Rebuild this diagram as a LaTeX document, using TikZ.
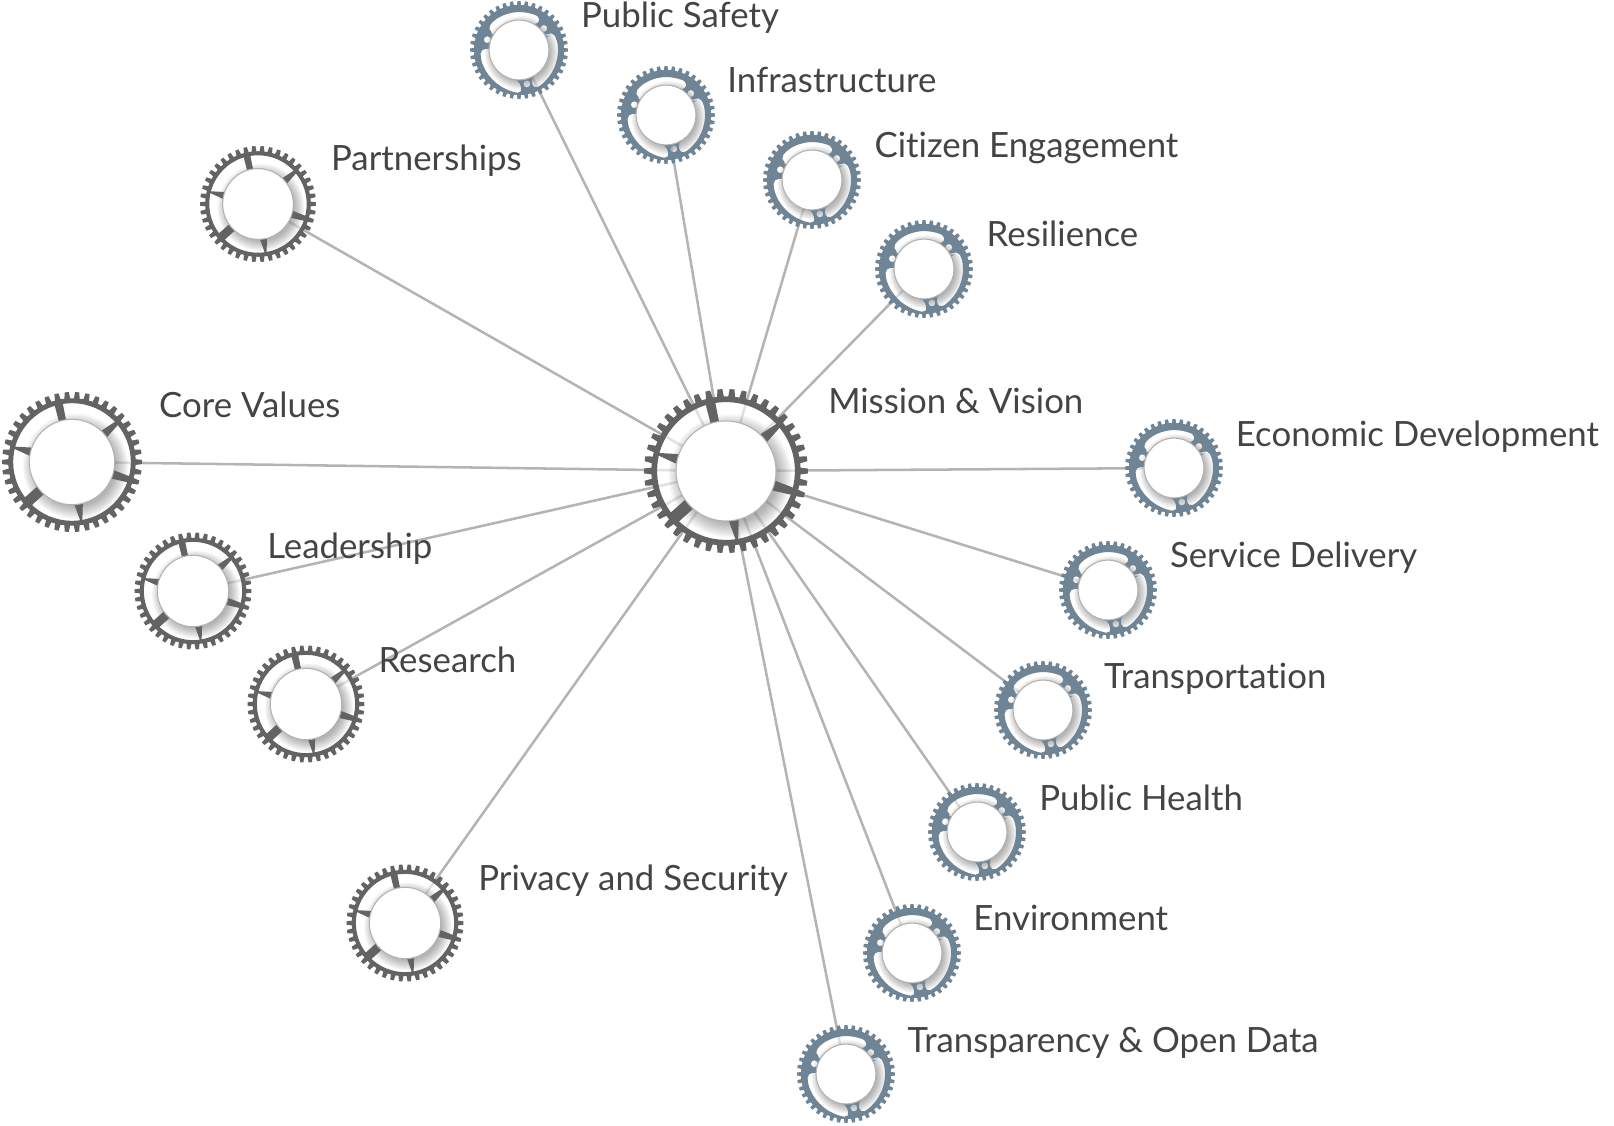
\documentclass[tikz,border=0pt]{standalone}
\usepackage{fontspec}
\usepackage{tikz}
\usetikzlibrary{backgrounds}
\setmainfont[Ligatures=NoCommon]{Lato}

\definecolor{darkgear}{HTML}{636363}
\definecolor{bluegear}{HTML}{6F8596}
\definecolor{linkgray}{HTML}{B4B4B4}
\definecolor{labelgray}{HTML}{444444}

% the three open windows of a blue gear
\newcommand{\bluewindows}{
  [rounded corners=.05cm]
  (147:.6) -- (147:.77) arc (147:55:.78) -- (55:.6) arc (55:147:.6) -- cycle
  (29:.6) -- (29:.78) arc (29:-66:.84) -- (-66:.6) arc (-66:29:.6) -- cycle
  (178:.6) -- (178:.78) arc (178:269:.87) -- (269:.6) arc (269:178:.6) -- cycle
}
\newcommand{\blueholes}{
  (41:.67) circle (.07)
  (162:.68) circle (.07)
  (-77:.71) circle (.07)
}
% soft shadow of the hub, darker on the lower right
\newcommand{\hubshadow}{
  \foreach \r in {1,...,12} {
    \fill[black,opacity=.028] (.05,-.06) circle ({.56+\r*.016});
  }
}

\tikzset{
  hub/.style={circle,fill=white,draw=gray!60,line width=.3pt,minimum size=1.22cm,inner sep=0pt,transform shape},
  link/.style={draw=linkgray,line width=.72pt},
  lbl/.style={anchor=base west,inner sep=0pt,text=labelgray,font=\fontsize{9.9}{12}\selectfont},
  darkwheel/.pic={
    % band
    \begin{scope}
      \clip (0,0) circle (.85);
      \fill[white,opacity=.6] (0,0) circle (.85);
      \hubshadow
    \end{scope}
    % spokes
    \foreach \a/\i/\o in {103/5/4,41/6/2,-17/6/3,-81/6/1,222/7/5,166/6/1} {
      \fill[darkgear] ({\a-\i}:.6) -- ({\a-\o}:.85) -- ({\a+\o}:.85) -- ({\a+\i}:.6) -- cycle;
    }
    % rim and teeth
    \fill[darkgear,even odd rule] (0,0) circle (.91) (0,0) circle (.84);
    \foreach \t in {1,...,42} {
      \fill[darkgear] ({\t*8.571-2.7}:.9) -- ({\t*8.571-1.7}:1) -- ({\t*8.571+1.7}:1) -- ({\t*8.571+2.7}:.9) -- cycle;
    }
    \node[hub] (-hub) at (0,0) {};
  },
  bluewheel/.pic={
    % windows
    \begin{scope}
      \clip \bluewindows \blueholes;
      \fill[white,opacity=.6] (0,0) circle (1);
      \hubshadow
    \end{scope}
    % plate and teeth
    \fill[bluegear,even odd rule] (0,0) circle (.92) \bluewindows \blueholes;
    \foreach \t in {1,...,40} {
      \fill[bluegear] ({\t*9-2.8}:.9) -- ({\t*9-1.8}:1) -- ({\t*9+1.8}:1) -- ({\t*9+2.8}:.9) -- cycle;
    }
    \node[hub] (-hub) at (0,0) {};
  }
}

\begin{document}
\begin{tikzpicture}
\useasboundingbox (0,0) rectangle (16.14,11.25);

% Centre
\pic[scale=.82] (mission) at (7.26,6.54) {darkwheel};

% Dark gears
\pic[scale=.70] (core) at (0.72,6.63) {darkwheel};
\pic[scale=.58] (partnerships) at (2.58,9.21) {darkwheel};
\pic[scale=.585] (leadership) at (1.93,5.34) {darkwheel};
\pic[scale=.585] (research) at (3.06,4.21) {darkwheel};
\pic[scale=.585] (privacy) at (4.05,2.02) {darkwheel};

% Blue gears
\pic[scale=.49] (safety) at (5.19,10.75) {bluewheel};
\pic[scale=.49] (infrastructure) at (6.66,10.10) {bluewheel};
\pic[scale=.49] (citizen) at (8.12,9.45) {bluewheel};
\pic[scale=.49] (resilience) at (9.24,8.56) {bluewheel};
\pic[scale=.49] (economic) at (11.74,6.57) {bluewheel};
\pic[scale=.49] (service) at (11.08,5.35) {bluewheel};
\pic[scale=.49] (transportation) at (10.43,4.15) {bluewheel};
\pic[scale=.49] (health) at (9.77,2.93) {bluewheel};
\pic[scale=.49] (environment) at (9.12,1.72) {bluewheel};
\pic[scale=.49] (transparency) at (8.46,0.51) {bluewheel};

% Links
\begin{scope}[on background layer]
\draw[link] (mission-hub) -- (core-hub);
\draw[link] (mission-hub) -- (partnerships-hub);
\draw[link] (mission-hub) -- (leadership-hub);
\draw[link] (mission-hub) -- (research-hub);
\draw[link] (mission-hub) -- (privacy-hub);
\draw[link] (mission-hub) -- (safety-hub);
\draw[link] (mission-hub) -- (infrastructure-hub);
\draw[link] (mission-hub) -- (citizen-hub);
\draw[link] (mission-hub) -- (resilience-hub);
\draw[link] (mission-hub) -- (economic-hub);
\draw[link] (mission-hub) -- (service-hub);
\draw[link] (mission-hub) -- (transportation-hub);
\draw[link] (mission-hub) -- (health-hub);
\draw[link] (mission-hub) -- (environment-hub);
\draw[link] (mission-hub) -- (transparency-hub);
\end{scope}

% Labels
\node[lbl] (missionlabel) at (8.276,7.12) {Mission \& Vision};
\node[lbl] (corelabel) at (1.585,7.08) {Core Values};
\node[lbl] (partnershipslabel) at (3.304,9.54) {Partnerships};
\node[lbl] (leadershiplabel) at (2.666,5.67) {Leadership};
\node[lbl] (researchlabel) at (3.778,4.53) {Research};
\node[lbl] (privacylabel) at (4.776,2.35) {Privacy and Security};
\node[lbl] (safetylabel) at (5.805,10.97) {Public Safety};
\node[lbl] (infrastructurelabel) at (7.267,10.32) {Infrastructure};
\node[lbl] (citizenlabel) at (8.739,9.67) {Citizen Engagement};
\node[lbl] (resiliencelabel) at (9.86,8.78) {Resilience};
\node[lbl] (economiclabel) at (12.352,6.79) {Economic Development};
\node[lbl] (servicelabel) at (11.693,5.58) {Service Delivery};
\node[lbl] (transportationlabel) at (11.034,4.37) {Transportation};
\node[lbl] (healthlabel) at (10.386,3.15) {Public Health};
\node[lbl] (environmentlabel) at (9.727,1.95) {Environment};
\node[lbl] (transparencylabel) at (9.068,0.73) {Transparency \& Open Data};

\end{tikzpicture}
\end{document}
